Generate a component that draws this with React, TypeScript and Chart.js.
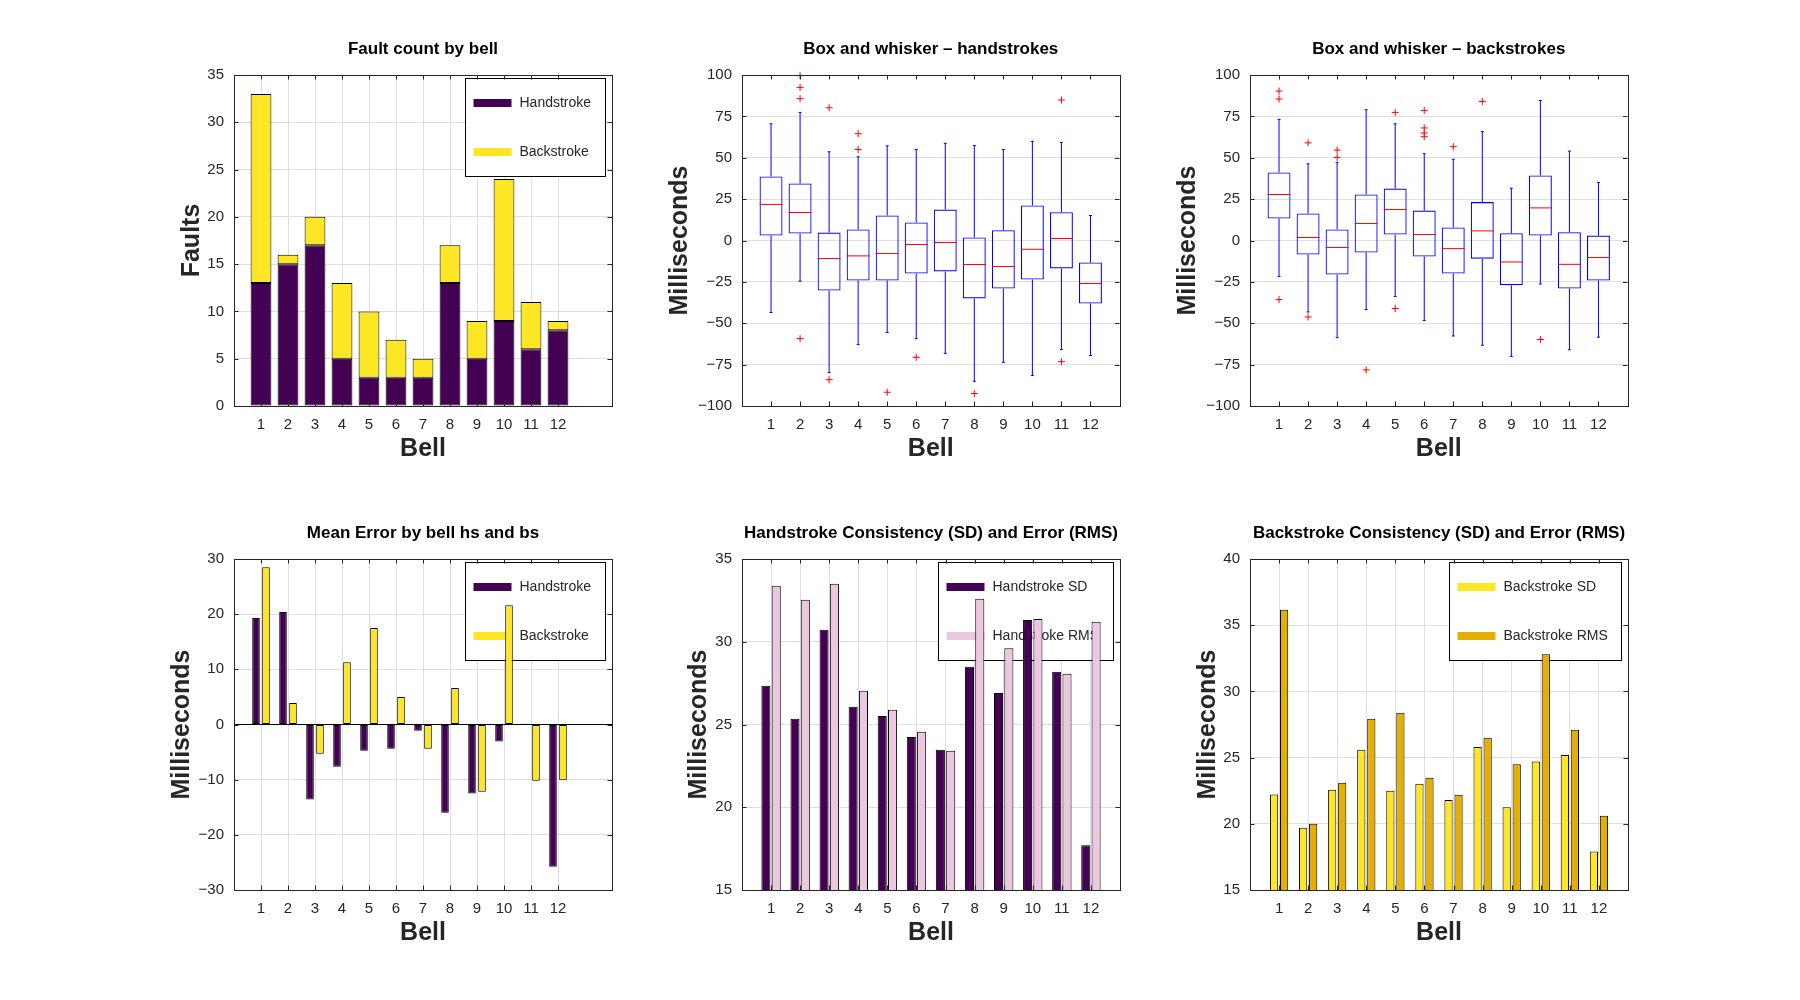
import React, { useEffect, useRef } from "react";
import { Chart, registerables } from "chart.js";

Chart.register(...registerables);

const FONT = "'Liberation Sans', Arial, Helvetica, sans-serif";
Chart.defaults.font.family = FONT;
Chart.defaults.color = "#262626";

// ---- data ----
const bells = [1, 2, 3, 4, 5, 6, 7, 8, 9, 10, 11, 12];

const faultHand = [13, 15, 17, 5, 3, 3, 3, 13, 5, 9, 6, 8];
const faultBack = [20, 1, 3, 8, 7, 4, 2, 4, 4, 15, 5, 1];

// box and whisker, handstrokes
const hsWhiskerLow = [-43.5, -24.6, -79.8, -62.9, -55.6, -59.3, -68.2, -85.1, -73.6, -81.6, -65.9, -69.5];
const hsQ1 = [3.0, 4.2, -30.2, -24.2, -24.2, -20.0, -18.7, -35.0, -29.0, -23.6, -16.9, -38.1];
const hsMedian = [21.8, 16.9, -10.9, -9.3, -7.9, -2.4, -1.2, -14.5, -15.7, -5.3, 1.2, -26.0];
const hsQ3 = [38.7, 34.5, 4.8, 6.7, 15.1, 10.9, 18.7, 1.8, 6.2, 21.2, 17.1, -13.3];
const hsWhiskerHigh = [70.5, 77.4, 53.6, 50.6, 57.2, 55.0, 58.7, 57.4, 55.0, 59.9, 59.3, 15.1];
const hsOutliers = [
  [2, 99.6], [2, 92.5], [2, 85.7], [2, -59.3], [3, 80.2], [3, -84.1], [4, 64.5], [4, 55.0],
  [5, -91.7], [6, -70.6], [8, -92.5], [11, 84.9], [11, -73.2],
];

// box and whisker, backstrokes
const bsWhiskerLow = [-21.8, -43.2, -58.7, -41.7, -33.9, -48.4, -57.7, -63.3, -70.0, -26.3, -66.0, -58.4];
const bsQ1 = [13.3, -8.5, -20.6, -7.3, 3.6, -9.7, -20.0, -11.0, -27.0, 3.0, -29.0, -24.2];
const bsMedian = [27.8, 1.8, -4.2, 10.3, 18.7, 3.6, -4.9, 5.8, -13.0, 19.7, -14.4, -10.3];
const bsQ3 = [41.1, 16.3, 6.7, 27.8, 31.4, 18.1, 7.9, 23.2, 4.4, 39.3, 5.0, 3.0];
const bsWhiskerHigh = [73.2, 46.3, 47.2, 79.0, 70.5, 52.4, 49.1, 65.8, 31.6, 84.6, 54.0, 35.1];
const bsOutliers = [
  [1, 90.3], [1, 85.5], [1, -35.7], [2, 59.0], [2, -46.2], [3, 54.6], [3, 50.2], [4, -78.2],
  [5, 77.4], [5, -41.1], [6, 78.6], [6, 68.0], [6, 65.0], [6, 62.7], [7, 56.7], [8, 84.0], [10, -59.8],
];

const meanHand = [19.3, 20.4, -13.6, -7.65, -4.76, -4.4, -1.14, -16.0, -12.5, -3.1, 0.12, -25.8];
const meanBack = [28.5, 3.9, -5.3, 11.3, 17.5, 5.0, -4.4, 6.6, -12.2, 21.6, -10.2, -10.1];

const hsSD = [27.34, 25.34, 30.73, 26.07, 25.52, 24.25, 23.47, 28.49, 26.9, 31.31, 28.19, 17.7];
const hsRMS = [33.39, 32.54, 33.51, 27.04, 25.89, 24.56, 23.41, 32.6, 29.6, 31.37, 28.06, 31.21];
const bsSD = [22.22, 19.7, 22.57, 25.6, 22.49, 23.02, 21.8, 25.8, 21.25, 24.7, 25.2, 17.9];
const bsRMS = [36.17, 20.0, 23.1, 27.93, 28.39, 23.48, 22.2, 26.5, 24.5, 32.8, 27.1, 20.6];

const faultTicks = [0, 5, 10, 15, 20, 25, 30, 35];
const msTicks = [-100, -75, -50, -25, 0, 25, 50, 75, 100];
const meanTicks = [-30, -20, -10, 0, 10, 20, 30];
const hsConsTicks = [15, 20, 25, 30, 35];
const bsConsTicks = [15, 20, 25, 30, 35, 40];

// ---- styling ----
const C_HAND = "#440154";
const C_BACK = "#fde725";
const C_HAND_RMS = "#ebc8df";
const C_BACK_RMS = "#e5ae02";
const GRID = "#dedede";
const AXIS = "#262626";

const AREA_W = 378;
const AREA_H = 331;
const TITLE_H = 34;
const X_H = 56;
const PAD_R = 12;
const PAD_B = 4;

const fmt = (v: number) => (v < 0 ? "\u2212" + Math.abs(v) : String(v));
const pts = (ys: number[]) => bells.map((b, i) => ({ x: b, y: ys[i] }));
const ranges = (lo: number[], hi: number[]) => bells.map((b, i) => ({ x: b, y: [lo[i], hi[i]] }));

const framePlugin = {
  id: "frame",
  afterDatasetsDraw(chart: any) {
    const { ctx, chartArea: a, scales } = chart;
    const tl = 4.5;
    ctx.save();
    ctx.strokeStyle = AXIS;
    ctx.lineWidth = 1;
    ctx.beginPath();
    scales.x.ticks.forEach((t: any) => {
      const px = Math.round(scales.x.getPixelForValue(t.value)) + 0.5;
      ctx.moveTo(px, a.bottom);
      ctx.lineTo(px, a.bottom - tl);
      ctx.moveTo(px, a.top);
      ctx.lineTo(px, a.top + tl);
    });
    scales.y.ticks.forEach((t: any) => {
      const py = Math.round(scales.y.getPixelForValue(t.value)) + 0.5;
      ctx.moveTo(a.left, py);
      ctx.lineTo(a.left + tl, py);
      ctx.moveTo(a.right, py);
      ctx.lineTo(a.right - tl, py);
    });
    ctx.stroke();
    ctx.strokeRect(Math.round(a.left) + 0.5, Math.round(a.top) + 0.5, Math.round(a.width), Math.round(a.height));
    ctx.restore();
  },
};

function legendPlugin(items: { label: string; color: string }[]) {
  return {
    id: "boxLegend",
    beforeDatasetsDraw(chart: any) {
      const { ctx, chartArea: a } = chart;
      ctx.save();
      ctx.font = `14px ${FONT}`;
      const tw = Math.max(...items.map((it) => ctx.measureText(it.label).width));
      const w = Math.round(8 + 38 + 8 + tw + 14);
      const h = 98;
      const x = Math.round(a.right - 7 - w) + 0.5;
      const y = Math.round(a.top + 3) + 0.5;
      ctx.fillStyle = "#ffffff";
      ctx.fillRect(x, y, w, h);
      ctx.strokeStyle = "#000000";
      ctx.lineWidth = 1;
      ctx.strokeRect(x, y, w, h);
      items.forEach((it, i) => {
        const cy = y + 24.5 + i * 49;
        ctx.fillStyle = it.color;
        ctx.fillRect(x + 8, cy - 4, 38, 8);
        ctx.fillStyle = AXIS;
        ctx.textBaseline = "middle";
        ctx.fillText(it.label, x + 54, cy);
      });
      ctx.restore();
    },
  };
}

function makeScales(o: {
  xMax: number;
  xGrid: boolean;
  yTicks: number[];
  yTitle: string;
  yW: number;
  stackX?: boolean;
  stackY?: boolean;
  zeroLine?: boolean;
}) {
  return {
    x: {
      type: "linear",
      min: 0,
      max: o.xMax,
      bounds: "data",
      offset: false,
      stacked: !!o.stackX,
      grid: { display: o.xGrid, color: GRID, drawTicks: false, offset: false },
      border: { display: false },
      afterBuildTicks: (s: any) => {
        s.ticks = bells.map((v) => ({ value: v }));
      },
      ticks: {
        color: AXIS,
        font: { size: 15 },
        padding: 10,
        autoSkip: false,
        maxRotation: 0,
        callback: (v: any) => fmt(Number(v)),
      },
      title: { display: true, text: "Bell", color: AXIS, font: { size: 25, weight: "bold", lineHeight: 1 }, padding: 0 },
      afterFit: (s: any) => {
        s.height = X_H;
      },
    },
    y: {
      type: "linear",
      min: o.yTicks[0],
      max: o.yTicks[o.yTicks.length - 1],
      bounds: "data",
      stacked: !!o.stackY,
      grid: {
        color: (c: any) => (o.zeroLine && c.tick && c.tick.value === 0 ? "#000000" : GRID),
        drawTicks: false,
      },
      border: { display: false },
      afterBuildTicks: (s: any) => {
        s.ticks = o.yTicks.map((v) => ({ value: v }));
      },
      ticks: { color: AXIS, font: { size: 15 }, padding: 10, callback: (v: any) => fmt(Number(v)) },
      title: { display: true, text: o.yTitle, color: AXIS, font: { size: 25, weight: "bold", lineHeight: 1 }, padding: 0 },
      afterFit: (s: any) => {
        s.width = o.yW;
      },
    },
  };
}

function baseOptions(title: string, scales: any) {
  return {
    animation: false,
    responsive: false,
    maintainAspectRatio: false,
    events: [],
    layout: { padding: { left: 0, top: 0, right: PAD_R, bottom: PAD_B } },
    plugins: {
      legend: { display: false },
      tooltip: { enabled: false },
      title: {
        display: true,
        text: title,
        color: "#000000",
        fullSize: false,
        font: { size: 17, weight: "bold", lineHeight: 1 },
        padding: { top: 0, bottom: 17 },
      },
    },
    scales,
  };
}

function barSet(label: string, data: any, color: string, extra: any = {}) {
  return {
    label,
    data,
    backgroundColor: color,
    borderColor: "#000000",
    borderWidth: 1,
    borderSkipped: false,
    clip: 0,
    ...extra,
  };
}

function faultConfig(yW: number) {
  return {
    type: "bar",
    data: {
      datasets: [
        barSet("Handstroke", pts(faultHand), C_HAND, { categoryPercentage: 1, barPercentage: 0.77 }),
        barSet("Backstroke", pts(faultBack), C_BACK, { categoryPercentage: 1, barPercentage: 0.77 }),
      ],
    },
    options: baseOptions(
      "Fault count by bell",
      makeScales({ xMax: 14, xGrid: true, yTicks: faultTicks, yTitle: "Faults", yW, stackX: true, stackY: true })
    ),
    plugins: [
      legendPlugin([
        { label: "Handstroke", color: C_HAND },
        { label: "Backstroke", color: C_BACK },
      ]),
      framePlugin,
    ],
  };
}

function boxConfig(
  yW: number,
  title: string,
  lo: number[],
  q1: number[],
  med: number[],
  q3: number[],
  hi: number[],
  outliers: number[][]
) {
  const blue = "#0000ff";
  const red = "#ff0000";
  const caps = [...pts(lo), ...pts(hi)];
  return {
    type: "bar",
    data: {
      datasets: [
        {
          type: "scatter",
          label: "outliers",
          data: outliers.map(([x, y]) => ({ x, y })),
          pointStyle: "cross",
          radius: 3.5,
          borderColor: red,
          borderWidth: 1,
          clip: false,
        },
        {
          type: "scatter",
          label: "median",
          data: pts(med),
          pointStyle: "line",
          radius: 11.5,
          borderColor: red,
          borderWidth: 1,
        },
        {
          type: "scatter",
          label: "caps",
          data: caps,
          pointStyle: "line",
          radius: 1.5,
          borderColor: blue,
          borderWidth: 1,
        },
        {
          label: "box",
          data: ranges(q1, q3),
          backgroundColor: "rgba(0,0,0,0)",
          borderColor: blue,
          borderWidth: 1.1,
          borderSkipped: false,
          categoryPercentage: 1,
          barPercentage: 0.79,
          inflateAmount: 0,
          clip: 0,
        },
        {
          label: "lower whisker",
          data: ranges(lo, q1),
          backgroundColor: blue,
          borderWidth: 0,
          barThickness: 1,
          inflateAmount: 0,
          clip: 0,
        },
        {
          label: "upper whisker",
          data: ranges(q3, hi),
          backgroundColor: blue,
          borderWidth: 0,
          barThickness: 1,
          inflateAmount: 0,
          clip: 0,
        },
      ],
    },
    options: baseOptions(
      title,
      makeScales({ xMax: 13, xGrid: false, yTicks: msTicks, yTitle: "Milliseconds", yW, stackX: true, stackY: false })
    ),
    plugins: [framePlugin],
  };
}

function meanConfig(yW: number) {
  return {
    type: "bar",
    data: {
      datasets: [
        barSet("Handstroke", pts(meanHand), C_HAND, { categoryPercentage: 0.74, barPercentage: 0.76 }),
        barSet("Backstroke", pts(meanBack), C_BACK, { categoryPercentage: 0.74, barPercentage: 0.76 }),
      ],
    },
    options: baseOptions(
      "Mean Error by bell hs and bs",
      makeScales({ xMax: 14, xGrid: true, yTicks: meanTicks, yTitle: "Milliseconds", yW, zeroLine: true })
    ),
    plugins: [
      legendPlugin([
        { label: "Handstroke", color: C_HAND },
        { label: "Backstroke", color: C_BACK },
      ]),
      framePlugin,
    ],
  };
}

function consConfig(
  yW: number,
  title: string,
  sd: number[],
  rms: number[],
  cSD: string,
  cRMS: string,
  names: string[],
  ticks: number[],
  cat: number,
  bar: number
) {
  return {
    type: "bar",
    data: {
      datasets: [
        barSet(names[0], pts(sd), cSD, { categoryPercentage: cat, barPercentage: bar }),
        barSet(names[1], pts(rms), cRMS, { categoryPercentage: cat, barPercentage: bar }),
      ],
    },
    options: baseOptions(title, makeScales({ xMax: 13, xGrid: true, yTicks: ticks, yTitle: "Milliseconds", yW })),
    plugins: [
      legendPlugin([
        { label: names[0], color: cSD },
        { label: names[1], color: cRMS },
      ]),
      framePlugin,
    ],
  };
}

type PanelSpec = { left: number; top: number; yW: number; make: (yW: number) => any };

const COLS = [234, 742, 1250];
const ROWS = [75, 559];

const panels: PanelSpec[] = [
  { left: COLS[0], top: ROWS[0], yW: 54, make: faultConfig },
  {
    left: COLS[1],
    top: ROWS[0],
    yW: 74,
    make: (yW) =>
      boxConfig(yW, "Box and whisker \u2013 handstrokes", hsWhiskerLow, hsQ1, hsMedian, hsQ3, hsWhiskerHigh, hsOutliers),
  },
  {
    left: COLS[2],
    top: ROWS[0],
    yW: 74,
    make: (yW) =>
      boxConfig(yW, "Box and whisker \u2013 backstrokes", bsWhiskerLow, bsQ1, bsMedian, bsQ3, bsWhiskerHigh, bsOutliers),
  },
  { left: COLS[0], top: ROWS[1], yW: 64, make: meanConfig },
  {
    left: COLS[1],
    top: ROWS[1],
    yW: 55,
    make: (yW) =>
      consConfig(
        yW,
        "Handstroke Consistency (SD) and Error (RMS)",
        hsSD,
        hsRMS,
        C_HAND,
        C_HAND_RMS,
        ["Handstroke SD", "Handstroke RMS"],
        hsConsTicks,
        0.71,
        0.88
      ),
  },
  {
    left: COLS[2],
    top: ROWS[1],
    yW: 54,
    make: (yW) =>
      consConfig(
        yW,
        "Backstroke Consistency (SD) and Error (RMS)",
        bsSD,
        bsRMS,
        C_BACK,
        C_BACK_RMS,
        ["Backstroke SD", "Backstroke RMS"],
        bsConsTicks,
        0.69,
        0.82
      ),
  },
];

function Panel({ spec }: { spec: PanelSpec }) {
  const ref = useRef<HTMLCanvasElement | null>(null);
  const w = spec.yW + AREA_W + PAD_R;
  const h = TITLE_H + AREA_H + X_H + PAD_B;

  useEffect(() => {
    const chart = new Chart(ref.current as HTMLCanvasElement, spec.make(spec.yW));
    return () => {
      chart.destroy();
    };
  }, []);

  return (
    <canvas
      ref={ref}
      width={w}
      height={h}
      style={{ position: "absolute", left: spec.left - spec.yW, top: spec.top - TITLE_H, width: w, height: h }}
    />
  );
}

export default function App() {
  return (
    <div style={{ position: "fixed", left: 0, top: 0, width: 1800, height: 1000, background: "#ffffff" }}>
      {panels.map((p, i) => (
        <Panel key={i} spec={p} />
      ))}
    </div>
  );
}
